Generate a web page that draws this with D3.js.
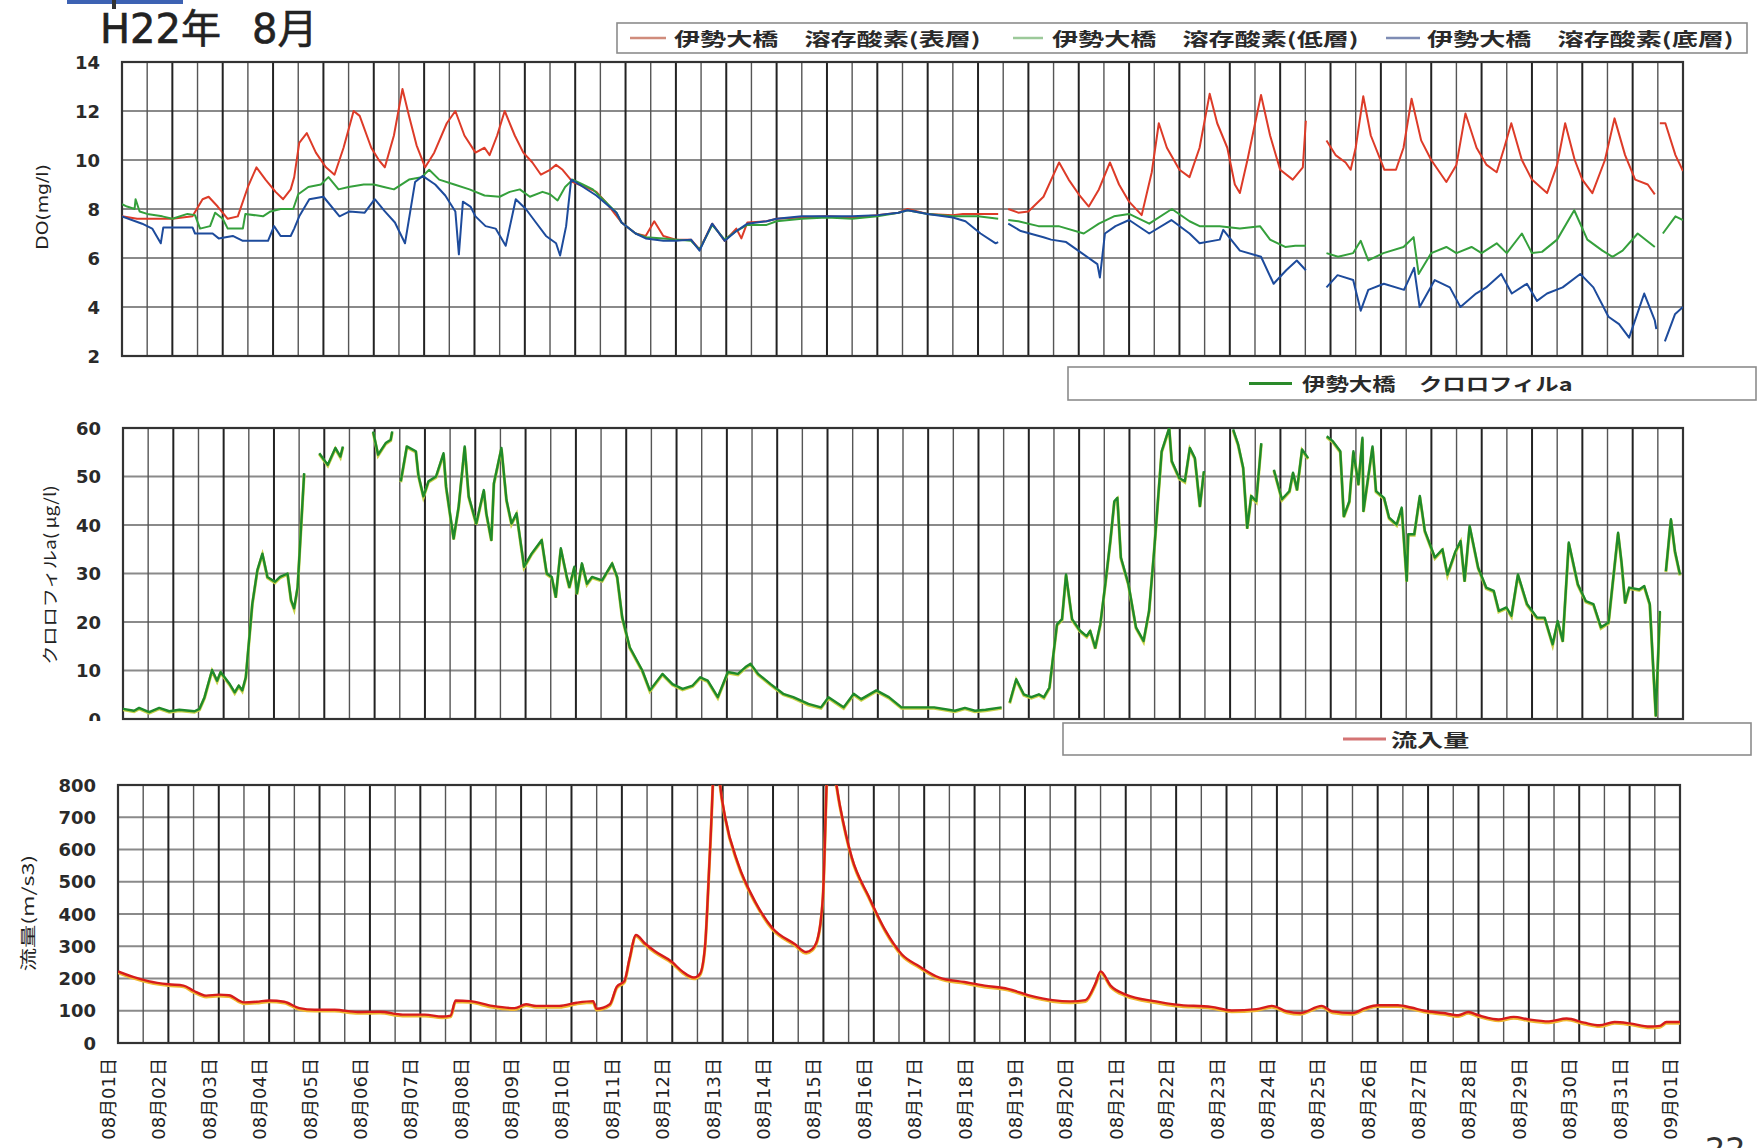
<!DOCTYPE html>
<meta charset="utf-8">
<head>
<script src="https://d3js.org/d3.v7.min.js"></script>
<style>
  body { margin: 0; background: #fff; }
  svg { display: block; }
</style>
</head>
<body>
<svg id="chart" width="1758" height="1148"></svg>
<script>
// ---- data (x = days since 08/01 00:00, null = no data) ----
var dayLabels = ["08月01日","08月02日","08月03日","08月04日","08月05日","08月06日","08月07日","08月08日",
  "08月09日","08月10日","08月11日","08月12日","08月13日","08月14日","08月15日","08月16日","08月17日",
  "08月18日","08月19日","08月20日","08月21日","08月22日","08月23日","08月24日","08月25日","08月26日",
  "08月27日","08月28日","08月29日","08月30日","08月31日","09月01日"];
var doTicks = [2, 4, 6, 8, 10, 12, 14];
var chlTicks = [0, 10, 20, 30, 40, 50, 60];
var flowTicks = [0, 100, 200, 300, 400, 500, 600, 700, 800];

var doSurface = [[0,7.7],[0.3,7.6],[0.6,7.6],[1.0,7.6],[1.4,7.7],[1.6,8.4],[1.72,8.5],[1.9,8.1],[2.1,7.6],[2.3,7.7],
  [2.5,8.9],[2.67,9.7],[2.85,9.2],[3.05,8.7],[3.2,8.4],[3.35,8.8],[3.42,9.3],[3.52,10.7],[3.67,11.1],[3.85,10.3],
  [4.05,9.7],[4.22,9.4],[4.4,10.5],[4.6,12.0],[4.72,11.8],[4.95,10.5],[5.1,10.0],[5.22,9.7],[5.4,11.0],[5.57,12.9],
  [5.7,11.8],[5.85,10.6],[6.02,9.7],[6.2,10.3],[6.45,11.5],[6.62,12.0],[6.8,11.0],[7.02,10.3],[7.2,10.5],[7.3,10.2],
  [7.45,11.0],[7.6,12.0],[7.8,11.0],[7.97,10.3],[8.15,9.9],[8.32,9.4],[8.5,9.6],[8.62,9.8],[8.75,9.6],[8.87,9.3],
  [8.95,9.1],[9.2,8.9],[9.42,8.7],[9.6,8.3],[9.92,7.45],[10.2,7.0],[10.4,6.9],[10.57,7.5],[10.75,6.9],[11.0,6.75],
  [11.3,6.75],[11.47,6.35],[11.72,7.4],[11.97,6.7],[12.2,7.2],[12.3,6.8],[12.42,7.45],[12.8,7.5],[13.0,7.6],[13.5,7.65],
  [14.0,7.7],[14.5,7.65],[15.0,7.75],[15.42,7.85],[15.6,8.0],[16.0,7.8],[16.5,7.75],[16.7,7.8],[17.4,7.8],[17.5,null],
  [17.6,8.0],[17.8,7.85],[18.0,7.9],[18.3,8.5],[18.61,9.9],[18.8,9.2],[19.0,8.6],[19.2,8.1],[19.4,8.8],[19.62,9.9],
  [19.8,9.0],[20.0,8.3],[20.25,7.75],[20.45,9.5],[20.59,11.5],[20.75,10.5],[21.0,9.6],[21.2,9.3],[21.4,10.5],[21.6,12.7],
  [21.75,11.5],[21.95,10.5],[22.1,9.0],[22.2,8.65],[22.35,10.0],[22.62,12.65],[22.8,11.0],[23.0,9.6],[23.25,9.2],[23.45,9.7],
  [23.51,11.6],[23.7,null],[23.92,10.8],[24.1,10.2],[24.3,9.9],[24.4,9.6],[24.5,10.5],[24.65,12.6],[24.8,11.0],[25.07,9.6],
  [25.3,9.6],[25.45,10.5],[25.61,12.5],[25.8,10.8],[26.0,10.0],[26.3,9.1],[26.5,9.8],[26.68,11.9],[26.9,10.5],[27.1,9.8],
  [27.3,9.5],[27.45,10.5],[27.59,11.5],[27.8,10.0],[28.0,9.2],[28.3,8.65],[28.5,9.8],[28.66,11.5],[28.85,10.0],[29.0,9.2],
  [29.2,8.65],[29.45,10.0],[29.64,11.7],[29.85,10.2],[30.05,9.2],[30.3,9.0],[30.44,8.6],[30.5,null],[30.54,11.5],[30.65,11.5],
  [30.85,10.2],[31.0,9.55]];

var doLower = [[0,8.2],[0.1,8.1],[0.25,8.0],[0.27,8.4],[0.35,7.9],[0.5,7.8],[0.8,7.7],[1.0,7.6],[1.3,7.8],[1.45,7.75],
  [1.55,7.2],[1.75,7.3],[1.85,7.85],[2.0,7.6],[2.1,7.2],[2.4,7.2],[2.45,7.8],[2.8,7.7],[2.95,7.9],[3.15,8.0],[3.4,8.0],
  [3.5,8.6],[3.7,8.9],[3.95,9.0],[4.1,9.3],[4.3,8.8],[4.5,8.9],[4.8,9.0],[5.0,9.0],[5.2,8.9],[5.4,8.8],[5.7,9.2],
  [5.95,9.3],[6.1,9.6],[6.3,9.2],[6.6,9.0],[6.9,8.8],[7.2,8.55],[7.5,8.5],[7.7,8.7],[7.9,8.8],[8.1,8.5],[8.35,8.7],
  [8.5,8.6],[8.65,8.35],[8.8,8.9],[8.95,9.2],[9.15,9.0],[9.35,8.8],[9.6,8.3],[9.82,7.85],[9.92,7.45],[10.2,7.0],
  [10.4,6.85],[10.75,6.8],[11.0,6.75],[11.3,6.7],[11.47,6.35],[11.72,7.35],[11.97,6.75],[12.2,7.1],[12.42,7.35],
  [12.8,7.35],[13.0,7.5],[13.5,7.6],[14.0,7.65],[14.5,7.6],[15.0,7.7],[15.42,7.85],[15.6,7.95],[16.0,7.8],[16.5,7.7],
  [17.0,7.7],[17.4,7.6],[17.5,null],[17.6,7.55],[17.8,7.5],[18.2,7.3],[18.6,7.3],[19.1,7.0],[19.4,7.4],[19.7,7.7],
  [20.0,7.8],[20.4,7.4],[20.85,8.0],[21.2,7.5],[21.4,7.3],[21.8,7.3],[22.2,7.2],[22.6,7.3],[22.8,6.75],[23.1,6.45],
  [23.3,6.5],[23.51,6.5],[23.7,null],[23.92,6.2],[24.15,6.05],[24.45,6.2],[24.6,6.7],[24.75,5.9],[25.05,6.2],[25.45,6.45],
  [25.65,6.85],[25.75,5.35],[26.0,6.2],[26.3,6.45],[26.5,6.2],[26.8,6.45],[27.0,6.2],[27.3,6.6],[27.5,6.2],[27.8,7.0],
  [28.0,6.2],[28.2,6.25],[28.5,6.75],[28.84,7.95],[29.1,6.75],[29.4,6.3],[29.6,6.05],[29.8,6.3],[30.1,7.0],[30.44,6.45],
  [30.5,null],[30.6,7.0],[30.85,7.7],[31,7.55]];

var doBottom = [[0,7.7],[0.4,7.4],[0.6,7.2],[0.77,6.6],[0.82,7.25],[1.0,7.25],[1.4,7.25],[1.45,7.0],[1.8,7.0],[1.92,6.8],
  [2.2,6.9],[2.4,6.7],[2.9,6.7],[3.02,7.3],[3.15,6.9],[3.35,6.9],[3.42,7.2],[3.52,7.7],[3.72,8.4],[4.0,8.5],[4.32,7.7],
  [4.52,7.9],[4.82,7.85],[5.02,8.4],[5.22,7.9],[5.42,7.45],[5.62,6.6],[5.82,9.1],[5.97,9.35],[6.22,9.0],[6.42,8.55],
  [6.62,7.9],[6.69,6.15],[6.77,8.3],[6.92,8.1],[7.02,7.7],[7.22,7.3],[7.42,7.2],[7.62,6.5],[7.82,8.4],[8.02,8.0],
  [8.22,7.45],[8.42,6.9],[8.62,6.6],[8.7,6.1],[8.82,7.3],[8.92,9.2],[9.12,8.95],[9.42,8.55],[9.82,7.85],[9.92,7.45],
  [10.2,7.0],[10.4,6.8],[10.75,6.7],[11.0,6.7],[11.3,6.75],[11.47,6.3],[11.72,7.4],[11.97,6.7],[12.2,7.1],[12.42,7.4],
  [12.8,7.5],[13.0,7.6],[13.5,7.7],[14.0,7.7],[14.5,7.7],[15.0,7.75],[15.42,7.85],[15.6,7.95],[16.0,7.8],[16.5,7.65],
  [16.75,7.5],[17.05,7.0],[17.35,6.6],[17.4,6.65],[17.5,null],[17.6,7.4],[17.85,7.1],[18.3,6.85],[18.45,6.75],[18.75,6.65],
  [19.06,6.2],[19.37,5.75],[19.42,5.2],[19.52,7.0],[19.73,7.3],[20.0,7.55],[20.4,7.0],[20.84,7.55],[21.2,7.0],[21.4,6.6],
  [21.8,6.75],[21.87,7.15],[22.2,6.3],[22.62,6.05],[22.87,4.95],[23.12,5.5],[23.33,5.9],[23.51,5.5],[23.7,null],
  [23.92,4.8],[24.14,5.3],[24.45,5.1],[24.6,3.85],[24.75,4.7],[25.06,4.95],[25.46,4.7],[25.66,5.6],[25.77,4.0],[26.07,5.1],
  [26.37,4.8],[26.58,4.0],[26.89,4.55],[27.09,4.8],[27.39,5.35],[27.6,4.55],[27.9,4.95],[28.1,4.25],[28.3,4.55],[28.61,4.8],
  [28.96,5.35],[29.22,4.8],[29.52,3.6],[29.73,3.3],[29.93,2.75],[30.23,4.55],[30.44,3.45],[30.47,3.1],[30.5,null],
  [30.64,2.6],[30.84,3.7],[31.0,4.0]];

var chl = [[0,2.1],[0.22,1.7],[0.32,2.3],[0.52,1.4],[0.72,2.3],[0.92,1.6],[1.12,1.9],[1.42,1.6],[1.52,2.1],[1.62,4.5],
  [1.77,10.1],[1.87,7.9],[1.94,9.7],[2.12,7.2],[2.22,5.5],[2.3,6.9],[2.37,5.9],[2.44,8.6],[2.57,23.8],[2.67,30.7],
  [2.77,34.1],[2.87,29.3],[3.02,28.3],[3.12,29.3],[3.27,30.0],[3.34,24.5],[3.4,22.8],[3.47,27.2],[3.6,50.7],[3.75,null],
  [3.9,54.8],[4.07,52.4],[4.22,55.9],[4.32,54.1],[4.37,56.2],[4.6,null],[4.97,59.3],[5.07,54.5],[5.22,56.9],[5.32,57.6],
  [5.35,59.3],[5.45,null],[5.52,49.0],[5.64,56.2],[5.82,55.2],[5.87,50.3],[5.97,45.9],[6.07,49.0],[6.22,50.0],[6.37,54.8],
  [6.42,47.9],[6.57,37.2],[6.67,43.8],[6.79,56.2],[6.87,45.9],[7.02,40.3],[7.17,47.2],[7.22,42.4],[7.32,36.9],[7.37,48.6],
  [7.52,55.9],[7.62,45.2],[7.72,40.3],[7.82,42.4],[7.97,31.4],[8.12,34.1],[8.32,36.9],[8.42,30.0],[8.52,29.3],[8.6,25.2],
  [8.7,35.2],[8.82,29.3],[8.87,27.2],[8.97,31.4],[9.02,25.9],[9.12,32.1],[9.22,27.9],[9.32,29.3],[9.52,28.6],[9.72,32.1],
  [9.82,29.3],[9.92,21.0],[10.07,14.8],[10.32,10.0],[10.47,5.9],[10.72,9.3],[10.92,7.2],[11.12,6.2],[11.32,6.9],[11.47,8.6],
  [11.62,7.9],[11.82,4.5],[12.02,9.7],[12.22,9.3],[12.37,10.7],[12.47,11.4],[12.62,9.3],[12.87,7.2],[13.12,5.2],[13.32,4.5],
  [13.62,3.1],[13.87,2.4],[14.02,4.5],[14.32,2.4],[14.52,5.2],[14.67,4.1],[14.97,5.9],[15.22,4.5],[15.47,2.4],[15.72,2.4],
  [16.12,2.4],[16.53,1.7],[16.73,2.3],[16.93,1.7],[17.14,1.9],[17.46,2.4],[17.54,null],[17.62,3.4],[17.75,8.2],[17.9,5.1],
  [18.05,4.5],[18.2,5.1],[18.3,4.5],[18.41,6.5],[18.56,19.5],[18.66,20.6],[18.74,29.8],[18.86,20.6],[19.02,18.2],[19.15,17.1],
  [19.22,18.2],[19.32,14.7],[19.42,19.5],[19.52,27.8],[19.62,36.7],[19.7,44.9],[19.76,45.6],[19.83,33.3],[19.98,27.8],
  [20.13,18.9],[20.28,16.1],[20.39,22.3],[20.49,34.6],[20.64,55.2],[20.79,60.0],[20.84,53.2],[20.99,49.7],[21.1,49.0],
  [21.2,55.9],[21.3,53.8],[21.4,43.9],[21.48,51.1],[21.7,null],[22.06,59.7],[22.16,56.6],[22.26,51.8],[22.34,39.4],
  [22.42,46.0],[22.52,44.9],[22.62,56.9],[22.75,null],[22.87,51.4],[23.03,45.3],[23.18,47.0],[23.25,50.8],[23.33,47.3],
  [23.43,55.6],[23.55,53.8],[23.7,null],[23.92,58.3],[24.04,57.3],[24.19,55.2],[24.26,41.8],[24.37,44.9],[24.45,55.2],
  [24.55,48.4],[24.63,58.0],[24.65,42.9],[24.83,56.2],[24.9,47.0],[25.06,45.6],[25.16,41.5],[25.31,40.1],[25.41,43.6],
  [25.51,28.5],[25.54,38.1],[25.66,38.1],[25.77,46.0],[25.87,38.8],[26.07,33.3],[26.22,35.0],[26.32,29.8],[26.48,34.6],
  [26.58,36.7],[26.66,28.5],[26.76,39.8],[26.93,31.2],[27.09,27.1],[27.24,26.4],[27.34,22.3],[27.49,23.0],[27.59,21.3],
  [27.72,29.8],[27.9,23.7],[28.1,20.9],[28.25,20.9],[28.41,15.4],[28.51,20.2],[28.61,16.1],[28.73,36.4],[28.91,27.8],
  [29.07,24.3],[29.22,23.7],[29.37,18.9],[29.52,19.9],[29.71,38.4],[29.78,32.2],[29.85,24.0],[29.93,27.1],[30.13,26.7],
  [30.23,27.4],[30.34,23.7],[30.46,0.7],[30.54,22.3],[30.6,null],[30.66,30.5],[30.76,41.2],[30.84,34.6],[30.94,29.8]];

var flow = [[0,222],[0.3,205],[0.6,192],[1.0,182],[1.3,178],[1.5,162],[1.75,147],[2.0,150],[2.2,148],[2.5,126],[2.75,128],
  [3.0,132],[3.3,128],[3.6,108],[3.9,103],[4.3,103],[4.76,96],[5.2,97],[5.65,88],[6.09,88],[6.43,82],[6.6,85],[6.7,132],
  [6.98,130],[7.43,115],[7.87,108],[8.1,120],[8.3,115],[8.76,115],[9.1,125],[9.43,130],[9.5,106],[9.76,120],[9.9,175],
  [10.05,192],[10.15,260],[10.28,335],[10.45,310],[10.65,285],[10.99,252],[11.2,222],[11.43,203],[11.55,215],[11.65,300],
  [11.75,600],[11.87,950],[11.95,800],[12.05,700],[12.3,559],[12.65,437],[12.99,356],[13.43,307],[13.66,282],[13.77,290],
  [13.88,321],[13.99,454],[14.1,900],[14.2,850],[14.33,734],[14.56,577],[14.9,454],[15.23,349],[15.55,276],[15.9,238],
  [16.3,203],[16.8,189],[17.2,178],[17.66,168],[18.1,147],[18.55,133],[18.9,129],[19.2,133],[19.4,185],[19.5,222],
  [19.7,178],[20.0,150],[20.6,129],[21.0,119],[21.7,112],[22.1,101],[22.6,105],[22.9,115],[23.2,98],[23.46,93],[23.89,115],
  [24.1,98],[24.5,93],[24.75,108],[25.0,117],[25.4,117],[25.66,110],[25.93,100],[26.3,93],[26.6,86],[26.8,96],[27.0,86],
  [27.4,73],[27.7,81],[28.0,73],[28.4,67],[28.75,76],[29.1,63],[29.4,55],[29.7,65],[30.0,61],[30.4,51],[30.6,53],[30.73,65],[31,65]];

// ---- drawing ----
var svg = d3.select("#chart");
var latin = "'DejaVu Sans', 'Noto Sans CJK JP', sans-serif";
var jp = "'Noto Sans CJK JP', sans-serif";

svg.append("rect").attr("width", 1758).attr("height", 1148).attr("fill", "#fff");

var panels = [
  {id: "do", x0: 122, x1: 1683, y0: 62, y1: 356, domain: [2, 14], ticks: doTicks},
  {id: "chl", x0: 123, x1: 1683, y0: 428, y1: 719, domain: [0, 60], ticks: chlTicks},
  {id: "flow", x0: 118, x1: 1680, y0: 785, y1: 1043, domain: [0, 800], ticks: flowTicks}
];

var defs = svg.append("defs");
var halfDays = d3.range(0, 31.001, 0.5);

panels.forEach(function(p) {
  p.x = d3.scaleLinear().domain([0, 31]).range([p.x0, p.x1]);
  p.y = d3.scaleLinear().domain(p.domain).range([p.y1, p.y0]);
  defs.append("clipPath").attr("id", "clip-" + p.id)
    .append("rect").attr("x", p.x0).attr("y", p.y0).attr("width", p.x1 - p.x0).attr("height", p.y1 - p.y0);

  var g = svg.append("g");
  // horizontal grid
  g.selectAll(".hg").data(p.ticks).enter().append("line")
    .attr("x1", p.x0).attr("x2", p.x1)
    .attr("y1", function(d) { return p.y(d); }).attr("y2", function(d) { return p.y(d); })
    .attr("stroke", "#8a8a8a").attr("stroke-width", 2);
  // vertical grid, darker on day boundaries
  g.selectAll(".vg").data(halfDays).enter().append("line")
    .attr("x1", function(d) { return p.x(d); }).attr("x2", function(d) { return p.x(d); })
    .attr("y1", p.y0).attr("y2", p.y1)
    .attr("stroke", function(d) { return d % 1 === 0 ? "#222" : "#555"; })
    .attr("stroke-width", function(d) { return d % 1 === 0 ? 2 : 1.4; });
  g.append("rect").attr("x", p.x0).attr("y", p.y0).attr("width", p.x1 - p.x0).attr("height", p.y1 - p.y0)
    .attr("fill", "none").attr("stroke", "#333").attr("stroke-width", 2.2);

  // y tick labels
  var lab = g.selectAll(".yl").data(p.ticks).enter().append("text")
    .attr("x", p.x0 - 22).attr("y", function(d) { return p.y(d); })
    .attr("text-anchor", "end").attr("dominant-baseline", "central")
    .attr("font-family", latin).attr("font-weight", "bold").attr("font-size", 18)
    .attr("fill", "#2a2a2a").text(function(d) { return d; });
  if (p.id === "chl") {
    defs.append("clipPath").attr("id", "clip-zero").append("rect")
      .attr("x", 0).attr("y", 600).attr("width", 120).attr("height", 121);
    lab.filter(function(d) { return d === 0; }).attr("clip-path", "url(#clip-zero)");
  }
});

function lineFor(p) {
  return d3.line()
    .defined(function(d) { return d[1] !== null; })
    .x(function(d) { return p.x(d[0]); })
    .y(function(d) { return p.y(d[1]); });
}

// DO panel
var pDo = panels[0];
var gDo = svg.append("g").attr("clip-path", "url(#clip-do)");
[[doSurface, "#dd3b28"], [doLower, "#35a03c"], [doBottom, "#1d4b9c"]].forEach(function(s) {
  gDo.append("path").datum(s[0]).attr("d", lineFor(pDo))
    .attr("fill", "none").attr("stroke", s[1]).attr("stroke-width", 2).attr("stroke-linejoin", "round");
});

// chlorophyll panel
var pChl = panels[1];
var gChl = svg.append("g").attr("clip-path", "url(#clip-chl)");
gChl.append("path").datum(chl).attr("d", lineFor(pChl)).attr("transform", "translate(0,1)")
  .attr("fill", "none").attr("stroke", "#c9d24a").attr("stroke-width", 3);
gChl.append("path").datum(chl).attr("d", lineFor(pChl))
  .attr("fill", "none").attr("stroke", "#1f8a2b").attr("stroke-width", 2.4).attr("stroke-linejoin", "round");

// flow panel
var pFl = panels[2];
var gFl = svg.append("g").attr("clip-path", "url(#clip-flow)");
gFl.append("path").datum(flow).attr("d", lineFor(pFl).curve(d3.curveMonotoneX)).attr("transform", "translate(0,1.3)")
  .attr("fill", "none").attr("stroke", "#f0b830").attr("stroke-width", 3);
gFl.append("path").datum(flow).attr("d", lineFor(pFl).curve(d3.curveMonotoneX))
  .attr("fill", "none").attr("stroke", "#d61c1c").attr("stroke-width", 2.4).attr("stroke-linejoin", "round");

// x labels under the flow panel
svg.append("g").selectAll("text").data(dayLabels).enter().append("text")
  .attr("transform", function(d, i) { return "translate(" + (pFl.x(i) - 3) + ",1058) rotate(-90)"; })
  .attr("text-anchor", "end")
  .attr("font-family", latin).attr("font-size", 18).attr("fill", "#222")
  .text(function(d) { return d; });

// axis titles
function vTitle(txt, cx, cy, size, stretch, fam) {
  svg.append("text")
    .attr("transform", "translate(" + cx + "," + cy + ") rotate(-90) scale(" + stretch + ",1)")
    .attr("text-anchor", "middle").attr("dominant-baseline", "central")
    .attr("font-family", fam).attr("font-size", size).attr("fill", "#222").text(txt);
}
vTitle("DO(mg/l)", 43, 207, 15, 1.25, latin);
vTitle("クロロフィルa( μg/l)", 49, 575, 16, 1.2, jp);
vTitle("流量(m/s3)", 27, 913, 16, 1.45, jp);

// legends
function legend(bx, by, bw, bh, items, stretch) {
  var g = svg.append("g");
  g.append("rect").attr("x", bx).attr("y", by).attr("width", bw).attr("height", bh)
    .attr("fill", "#fff").attr("stroke", "#8c8c8c").attr("stroke-width", 1.6);
  var cy = by + bh / 2;
  items.forEach(function(it) {
    g.append("line").attr("x1", it.lx0).attr("x2", it.lx1).attr("y1", cy).attr("y2", cy)
      .attr("stroke", it.color).attr("stroke-width", it.w || 2.5);
    g.append("text").attr("transform", "translate(" + it.tx + "," + cy + ") scale(" + stretch + ",1)")
      .attr("dominant-baseline", "central").attr("font-family", jp).attr("font-weight", "bold")
      .attr("font-size", 18).attr("fill", "#2a2a2a").text(it.label);
  });
}
legend(617, 23, 1130, 30, [
  {lx0: 630, lx1: 666, tx: 674, color: "#d08c7c", label: "伊勢大橋　溶存酸素(表層)"},
  {lx0: 1013, lx1: 1043, tx: 1052, color: "#9cc99a", label: "伊勢大橋　溶存酸素(低層)"},
  {lx0: 1386, lx1: 1420, tx: 1427, color: "#7e8cb4", label: "伊勢大橋　溶存酸素(底層)"}
], 1.45);
legend(1068, 367, 688, 33, [
  {lx0: 1249, lx1: 1292, tx: 1302, color: "#2a8a2a", w: 3, label: "伊勢大橋　クロロフィルa"}
], 1.3);
legend(1063, 723, 688, 32, [
  {lx0: 1343, lx1: 1386, tx: 1391, color: "#d47474", w: 3, label: "流入量"}
], 1.45);

// title and page decoration
svg.append("rect").attr("x", 67).attr("y", 0).attr("width", 116).attr("height", 4).attr("fill", "#3d62b3");
svg.append("rect").attr("x", 112).attr("y", 0).attr("width", 4).attr("height", 9).attr("fill", "#333");
svg.append("text").attr("x", 100).attr("y", 43).attr("font-family", latin).attr("font-size", 40)
  .attr("fill", "#222").attr("stroke", "#222").attr("stroke-width", 0.6).text("H22年");
svg.append("text").attr("x", 252).attr("y", 43).attr("font-family", latin).attr("font-size", 40)
  .attr("fill", "#222").attr("stroke", "#222").attr("stroke-width", 0.6).text("8月");
svg.append("text").attr("x", 1705).attr("y", 1160).attr("font-family", latin).attr("font-size", 32)
  .attr("fill", "#333").text("22");
</script>
</body>
